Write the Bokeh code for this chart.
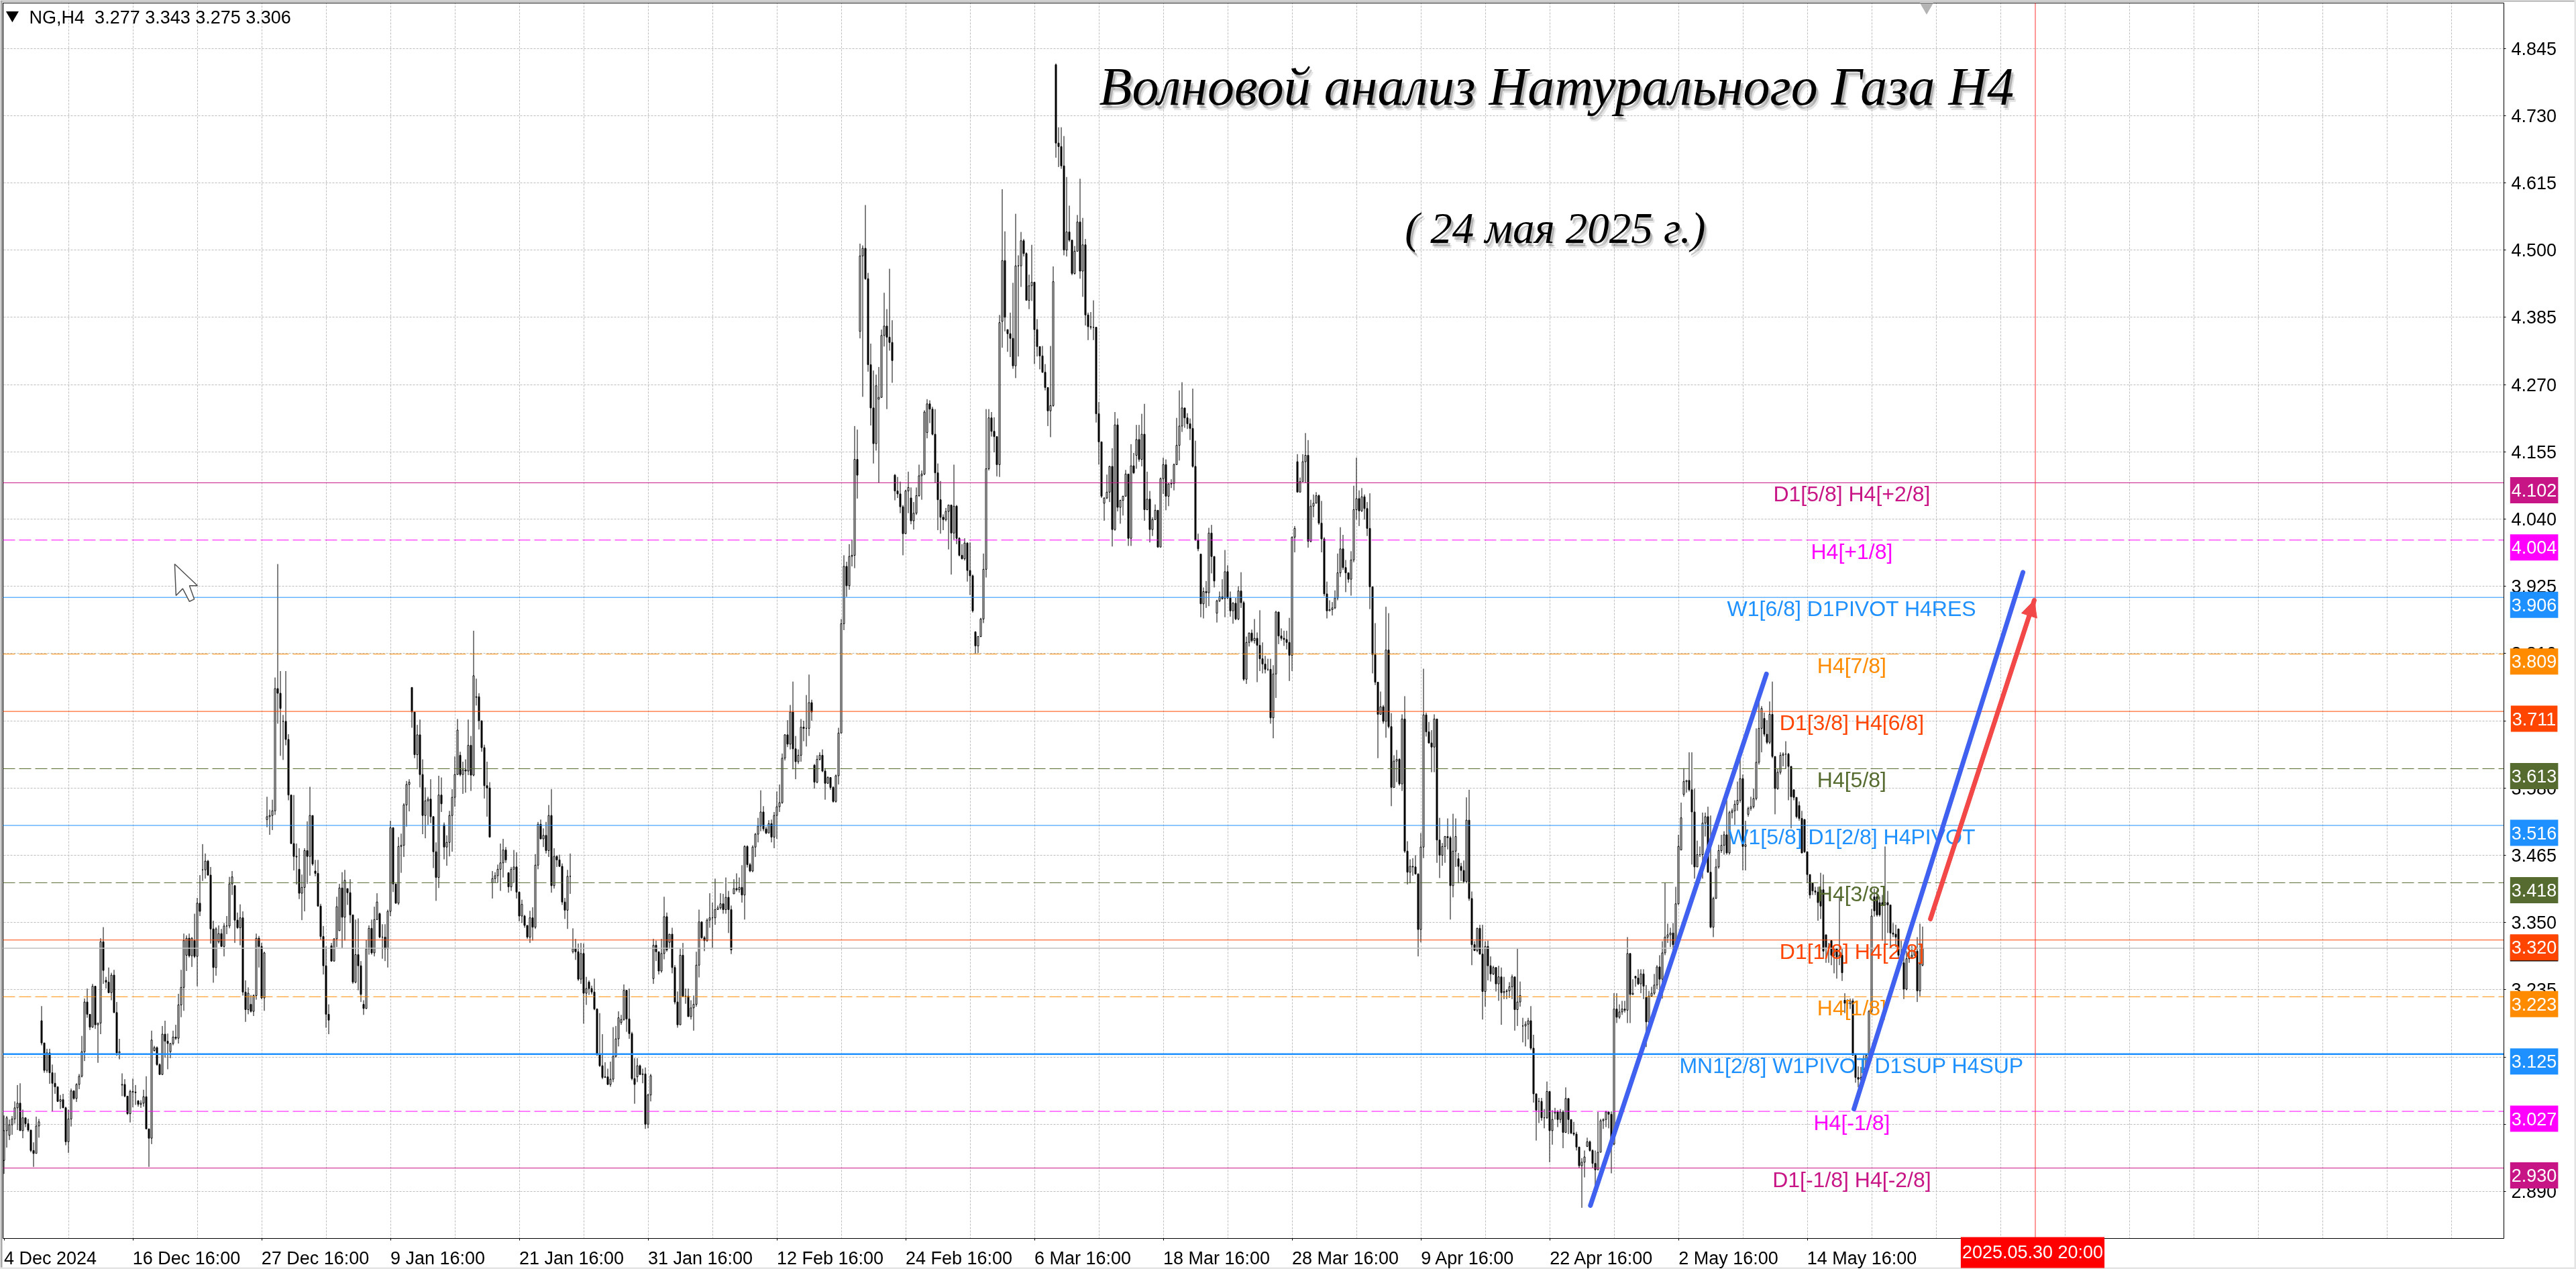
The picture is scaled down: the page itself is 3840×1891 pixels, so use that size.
from bokeh.plotting import figure
from bokeh.embed import file_html
from bokeh.resources import INLINE
from bokeh.core.properties import value
from bokeh.models import (FixedTicker, NumeralTickFormatter, LinearAxis, Label, Arrow,
                          NormalHead, ColumnDataSource)

# ---- OHLC data, in thousandths of a price unit ----
closes = [
2994,3016,3004,3014,3033,3041,2994,3016,3006,2995,2960,2955,3002,3009,3144,3097,3127,3093,3075,3069,
3044,3047,3033,2975,3014,3062,3049,3073,3087,3129,3214,3193,3171,3241,3175,3178,3317,3268,3248,3230,
3260,3196,3127,3129,3073,3053,3023,3061,3060,3059,3039,3041,3052,2997,2981,3149,3136,3107,3090,3159,
3147,3143,3143,3154,3152,3209,3239,3319,3323,3293,3323,3292,3383,3369,3440,3455,3431,3339,3273,3339,
3331,3309,3344,3344,3416,3428,3354,3341,3358,3231,3201,3229,3198,3225,3323,3309,3221,3298,3531,3533,
3541,3750,3742,3716,3694,3663,3568,3485,3463,3462,3400,3410,3473,3463,3533,3450,3434,3378,3326,3276,
3193,3183,3284,3322,3377,3409,3359,3422,3401,3363,3248,3295,3276,3227,3203,3305,3340,3298,3355,3385,
3325,3325,3305,3369,3512,3416,3383,3480,3482,3551,3586,3590,3710,3637,3671,3603,3533,3558,3561,3531,
3471,3427,3568,3553,3479,3487,3533,3564,3603,3679,3603,3611,3609,3653,3602,3772,3736,3695,3649,3584,
3580,3496,3425,3430,3441,3452,3474,3457,3411,3441,3445,3402,3361,3381,3345,3325,3358,3342,3448,3518,
3493,3499,3473,3533,3413,3463,3457,3446,3385,3371,3429,3429,3305,3300,3253,3297,3229,3237,3237,3231,
3202,3124,3105,3085,3086,3073,3082,3121,3151,3187,3184,3234,3185,3160,3083,3073,3105,3090,3091,3005,
3055,3088,3311,3300,3267,3297,3360,3303,3330,3273,3214,3175,3294,3224,3224,3189,3204,3210,3277,3351,
3324,3319,3354,3358,3358,3372,3375,3382,3372,3393,3372,3303,3408,3406,3410,3397,3480,3449,3438,3479,
3501,3515,3539,3510,3503,3519,3496,3533,3548,3555,3631,3671,3655,3710,3647,3625,3636,3684,3682,3682,
3726,3710,3590,3629,3636,3609,3588,3598,3581,3557,3601,3674,3861,3959,3926,3976,3978,4142,4115,4490,
4503,4451,4304,4230,4169,4268,4248,4354,4370,4351,4342,4311,4088,4083,4061,4015,4088,4094,4037,4050,
4080,4114,4117,4223,4237,4228,4185,4119,4073,4043,4039,4053,4064,4016,4062,4007,3978,3972,3999,3952,
3943,3883,3823,3839,3869,3954,4126,4213,4190,4181,4133,4376,4482,4385,4357,4349,4302,4473,4473,4516,
4494,4414,4439,4445,4364,4335,4319,4291,4265,4225,4234,4446,4683,4677,4644,4500,4531,4517,4460,4498,
4548,4464,4509,4389,4369,4368,4368,4220,4172,4079,4076,4086,4130,4022,4201,4060,4072,4079,4117,4007,
4131,4119,4176,4142,4185,4056,4074,4022,4039,4055,3992,4109,4133,4079,4100,4101,4133,4166,4199,4230,
4213,4203,4195,4130,4004,3989,3895,3916,3914,4016,3976,3934,3900,3907,3904,3950,3905,3883,3896,3869,
3917,3897,3766,3829,3845,3832,3836,3824,3801,3792,3783,3783,3700,3775,3881,3840,3836,3834,3829,3807,
4009,4024,4086,4104,4138,4149,4002,4062,4067,4080,4033,4006,3912,3883,3885,3888,3905,3948,3989,3957,
3948,3937,3970,4056,4075,4054,4078,4058,4024,3924,3808,3761,3706,3719,3694,3816,3685,3581,3626,3629,
3587,3698,3472,3436,3446,3445,3433,3338,3479,3705,3676,3657,3650,3698,3491,3465,3480,3497,3495,3413,
3472,3497,3446,3439,3420,3525,3391,3312,3302,3340,3296,3232,3309,3276,3262,3273,3245,3257,3230,3232,
3233,3240,3257,3201,3214,3225,3173,3176,3182,3135,3057,3029,3044,3016,3016,3061,2994,3013,3026,3013,
3026,2991,3049,3013,2990,2988,2966,2934,2940,2949,2975,2960,2938,2927,2957,3011,3013,3026,3022,2971,
3202,3188,3197,3202,3200,3297,3227,3229,3255,3245,3262,3241,3180,3224,3229,3243,3274,3253,3298,3325,
3329,3332,3312,3382,3480,3529,3591,3593,3577,3539,3445,3466,3466,3520,3531,3436,3342,3391,3445,3473,
3482,3500,3469,3538,3541,3552,3559,3596,3480,3483,3545,3548,3562,3624,3682,3716,3672,3658,3706,3634,
3579,3607,3636,3638,3638,3617,3565,3564,3531,3528,3469,3471,3432,3397,3404,3402,3384,3378,3301,3308,
3305,3294,3305,3291,3294,3264,3212,3211,3216,3123,3085,3082,3085,3099,3123,3198,3361,3370,3363,3363,
3380,3384,3380,3332,3330,3325,3294,3281,3236,3288,3291,3294,3301,3233,3279,3306]
highs = [
3020,3019,3013,3019,3044,3072,3075,3030,3013,3014,2995,2974,3018,3014,3207,3144,3134,3134,3107,3093,
3065,3055,3057,3035,3030,3066,3063,3075,3091,3156,3220,3237,3188,3245,3241,3178,3323,3342,3257,3273,
3264,3269,3214,3151,3092,3082,3051,3064,3083,3072,3046,3046,3064,3087,2997,3165,3139,3138,3109,3173,
3182,3160,3144,3165,3175,3228,3269,3331,3328,3331,3325,3365,3392,3431,3484,3468,3457,3445,3353,3342,
3345,3339,3349,3361,3428,3438,3413,3367,3381,3369,3251,3239,3226,3227,3331,3327,3315,3300,3565,3543,
3560,3769,3963,3780,3705,3780,3672,3568,3568,3485,3477,3432,3477,3523,3582,3533,3457,3457,3382,3344,
3309,3210,3315,3323,3394,3416,3436,3440,3408,3424,3363,3355,3357,3284,3217,3320,3345,3355,3377,3400,
3367,3347,3347,3372,3524,3513,3406,3496,3502,3554,3592,3595,3752,3710,3688,3697,3629,3581,3565,3595,
3532,3487,3601,3598,3521,3499,3541,3578,3634,3698,3642,3625,3629,3697,3669,3849,3767,3742,3695,3654,
3625,3590,3438,3436,3449,3485,3493,3479,3436,3445,3474,3470,3403,3389,3363,3345,3370,3376,3467,3522,
3526,3511,3522,3551,3578,3477,3465,3466,3451,3392,3440,3468,3340,3322,3314,3315,3314,3257,3251,3242,
3254,3203,3195,3159,3111,3100,3112,3171,3173,3198,3192,3244,3234,3237,3163,3118,3118,3107,3100,3102,
3057,3091,3322,3319,3300,3322,3394,3367,3330,3341,3277,3232,3305,3315,3237,3237,3217,3225,3300,3372,
3351,3327,3357,3400,3384,3425,3379,3400,3399,3427,3404,3379,3424,3434,3427,3448,3482,3482,3452,3482,
3503,3529,3576,3549,3514,3525,3526,3539,3574,3586,3639,3672,3696,3722,3762,3669,3646,3698,3695,3739,
3774,3731,3621,3636,3641,3646,3614,3600,3596,3583,3603,3683,3869,3978,3967,3997,4005,4199,4193,4511,
4508,4577,4461,4340,4294,4287,4300,4364,4427,4399,4468,4380,4117,4112,4104,4064,4090,4121,4094,4069,
4094,4133,4123,4226,4245,4243,4232,4228,4135,4105,4048,4059,4064,4064,4133,4064,4009,3997,4007,4000,
4000,3945,3848,3840,3871,3981,4228,4228,4223,4214,4181,4389,4604,4532,4364,4393,4444,4562,4491,4531,
4519,4496,4458,4509,4444,4382,4328,4336,4305,4265,4336,4472,4819,4710,4710,4695,4625,4576,4507,4507,
4560,4622,4555,4519,4393,4394,4414,4368,4240,4169,4077,4116,4131,4161,4223,4212,4073,4080,4124,4116,
4168,4153,4201,4201,4220,4237,4121,4088,4043,4065,4055,4111,4145,4142,4101,4108,4135,4213,4260,4274,
4229,4221,4212,4263,4174,4015,3980,3923,3934,4025,4030,3973,3902,3916,3937,3987,3961,3916,3898,3905,
3925,3949,3900,3839,3846,3851,3869,3846,3884,3829,3806,3801,3801,3790,3883,3881,3853,3849,3849,3871,
4010,4028,4151,4111,4151,4187,4175,4073,4082,4086,4082,4071,4009,3933,3901,3898,3918,3981,4026,4013,
3970,3948,3985,4097,4145,4089,4093,4082,4069,4084,3924,3862,3756,3745,3722,3890,3879,3708,3636,3645,
3631,3706,3737,3489,3458,3460,3465,3434,3503,3784,3709,3693,3679,3706,3695,3529,3486,3498,3528,3498,
3536,3528,3469,3452,3456,3564,3577,3403,3318,3341,3346,3346,3318,3319,3292,3276,3273,3276,3273,3257,
3236,3248,3261,3257,3305,3249,3187,3181,3187,3207,3158,3057,3050,3050,3031,3078,3061,3029,3033,3029,
3031,3029,3068,3049,3013,3009,2992,2966,2947,2960,2982,2977,2962,2960,3026,3014,3015,3028,3022,3027,
3229,3229,3210,3216,3216,3325,3294,3253,3258,3270,3270,3270,3243,3233,3240,3262,3277,3294,3318,3418,
3348,3341,3349,3411,3500,3555,3614,3593,3641,3641,3579,3490,3480,3538,3538,3548,3533,3394,3459,3483,
3500,3506,3559,3541,3545,3559,3591,3634,3603,3524,3548,3565,3579,3682,3737,3720,3709,3696,3728,3762,
3631,3613,3641,3641,3660,3640,3616,3577,3555,3557,3541,3527,3469,3432,3417,3411,3411,3435,3432,3329,
3315,3319,3305,3305,3393,3305,3229,3219,3220,3220,3126,3104,3103,3123,3125,3200,3373,3408,3405,3394,
3397,3480,3404,3368,3349,3346,3339,3319,3294,3301,3308,3310,3301,3325,3348,3343]
lows = [
2920,2965,2978,2987,3006,2995,2994,2981,3000,2992,2957,2932,2956,2982,3140,3093,3093,3074,3027,3057,
3043,3031,3033,2969,2956,3001,3047,3043,3065,3085,3113,3187,3166,3170,3168,3110,3159,3245,3237,3229,
3217,3195,3122,3116,3053,3051,3021,3008,3034,3038,3035,3033,3035,2997,2932,2971,3129,3105,3090,3089,
3119,3099,3118,3140,3149,3143,3188,3199,3267,3290,3274,3289,3241,3361,3421,3425,3430,3314,3247,3259,
3314,3308,3292,3330,3340,3397,3315,3339,3311,3225,3180,3193,3196,3190,3218,3273,3219,3199,3513,3500,
3508,3534,3690,3635,3628,3653,3559,3484,3439,3415,3390,3354,3369,3416,3430,3447,3429,3377,3321,3261,
3170,3159,3283,3283,3308,3336,3306,3319,3380,3349,3245,3246,3234,3214,3192,3202,3295,3295,3292,3354,
3323,3288,3284,3273,3361,3402,3382,3380,3435,3462,3514,3540,3683,3631,3612,3581,3501,3494,3517,3520,
3443,3387,3409,3539,3458,3447,3463,3471,3548,3603,3600,3570,3572,3602,3575,3600,3721,3680,3642,3562,
3531,3496,3391,3418,3418,3404,3427,3452,3401,3404,3418,3391,3352,3349,3341,3322,3315,3319,3339,3441,
3492,3479,3468,3462,3401,3408,3445,3445,3380,3356,3339,3399,3297,3286,3250,3245,3177,3209,3226,3227,
3200,3122,3103,3082,3085,3072,3069,3077,3119,3138,3175,3182,3163,3151,3080,3040,3077,3089,3075,2997,
2998,3044,3245,3284,3261,3264,3287,3300,3305,3263,3210,3170,3175,3222,3211,3189,3184,3165,3206,3256,
3322,3301,3317,3341,3306,3346,3372,3372,3365,3365,3332,3296,3399,3403,3401,3384,3355,3444,3436,3436,
3462,3487,3506,3506,3501,3504,3487,3477,3493,3539,3553,3627,3650,3646,3612,3595,3621,3625,3660,3651,
3669,3695,3579,3588,3627,3607,3560,3587,3577,3555,3555,3586,3674,3850,3907,3919,3959,3956,4075,4349,
4249,4449,4292,4200,4135,4157,4102,4248,4335,4228,4328,4273,4072,4076,4050,3978,4014,4050,4031,4022,
4047,4078,4073,4115,4178,4204,4183,4102,4021,4015,4021,4036,3988,3945,4005,3997,3976,3971,3969,3933,
3910,3880,3810,3811,3838,3862,3940,4123,4181,4154,4113,4112,4333,4361,4326,4317,4297,4281,4318,4437,
4489,4414,4399,4413,4305,4318,4296,4290,4260,4199,4180,4232,4658,4642,4639,4491,4489,4514,4457,4458,
4498,4451,4420,4371,4346,4364,4346,4205,4133,4076,4037,4074,4069,3993,4020,4053,4032,4046,4079,3994,
3994,4117,4126,4138,4130,4037,4055,4000,4011,4039,3991,3993,4083,4055,4062,4093,4089,4133,4140,4189,
4196,4194,4175,4128,4003,3985,3872,3870,3888,3891,3947,3923,3863,3898,3902,3872,3903,3873,3861,3867,
3867,3888,3763,3758,3822,3829,3827,3761,3780,3776,3776,3780,3690,3665,3734,3826,3832,3823,3817,3763,
3780,3983,4086,4086,4104,4102,3991,4000,4043,4067,4030,3983,3908,3870,3883,3875,3886,3901,3941,3953,
3915,3931,3909,3966,4039,4028,4052,4039,4011,3886,3776,3756,3631,3706,3690,3666,3682,3549,3581,3590,
3584,3575,3469,3415,3417,3430,3432,3292,3316,3460,3668,3656,3607,3607,3452,3426,3447,3452,3475,3355,
3393,3445,3417,3421,3417,3417,3387,3277,3301,3299,3295,3184,3206,3251,3249,3260,3232,3216,3175,3219,
3219,3221,3219,3165,3173,3206,3145,3138,3150,3132,3042,2977,3007,3011,2998,3014,2940,2970,3013,3000,
3007,2964,2990,2988,2988,2985,2960,2930,2862,2914,2966,2958,2930,2899,2929,2957,2997,3000,2998,2921,
2969,3178,3185,3192,3196,3178,3178,3226,3240,3243,3229,3219,3137,3168,3223,3226,3236,3223,3220,3294,
3315,3308,3301,3308,3380,3480,3565,3572,3574,3449,3425,3445,3462,3425,3497,3435,3340,3325,3404,3442,
3469,3466,3466,3466,3528,3517,3541,3555,3439,3439,3531,3541,3545,3559,3620,3641,3668,3655,3655,3631,
3535,3577,3603,3617,3613,3559,3511,3559,3528,3524,3468,3469,3418,3391,3397,3397,3353,3356,3288,3281,
3281,3277,3263,3254,3277,3250,3195,3202,3202,3123,3076,3068,3078,3082,3089,3120,3195,3360,3360,3360,
3319,3308,3332,3308,3325,3308,3288,3277,3219,3234,3281,3288,3295,3214,3224,3275]
# opens equal the previous close, except at these bars (gaps and small offsets)
gap_bars = [0,2,14,38,44,50,56,62,68,71,74,80,86,92,98,104,110,116,122,125,128,134,140,152,164,170,176,
            182,188,194,212,218,230,236,242,248,249,272,302,319,326,332,338,344,362,372,374,392,410,422,
            446,452,482,542,566,572,578,590,608,612,625,626,650,656,667,669,671,674,677,678,679,681,686,
            697,698,699,700,706,715]
gap_opens = [2943,2986,3182,3251,3072,3045,3131,3129,3294,3319,3440,3317,3413,3210,3526,3694,3441,3438,3310,
             3336,3408,3210,3365,3752,3517,3636,3735,3418,3435,3361,3300,3248,3179,3086,3254,3316,3330,3399,
             3619,4361,4245,4115,4076,4188,3847,4378,4364,4817,4067,4149,3980,3879,4138,3459,3173,3044,3024,
             2967,3258,3222,3474,3569,3535,3699,3577,3550,3526,3417,3406,3406,3329,3319,3217,3394,3394,3384,
             3384,3339,3277]

price_ticks = [4.845,4.730,4.615,4.500,4.385,4.270,4.155,4.040,3.925,3.810,3.695,3.580,3.465,3.350,3.235,3.120,3.005,2.890]
time_bars = [0,48,96,144,192,240,288,336,384,432,480,528,576,624,672]
time_labels = ["4 Dec 2024","16 Dec 16:00","27 Dec 16:00","9 Jan 16:00","21 Jan 16:00","31 Jan 16:00","12 Feb 16:00",
               "24 Feb 16:00","6 Mar 16:00","18 Mar 16:00","28 Mar 16:00","9 Apr 16:00","22 Apr 16:00","2 May 16:00","14 May 16:00"]
time_label_px = [138,160,160,141,156,156,159,159,144,159,159,140,155,149,163]
grid_bars = [24*k for k in range(1, 39)]

level_prices = [4.102,4.004,3.906,3.809,3.711,3.613,3.516,3.418,3.320,3.223,3.125,3.027,2.930]
level_labels = ["4.102","4.004","3.906","3.809","3.711","3.613","3.516","3.418","3.320","3.223","3.125","3.027","2.930"]
level_names = ["D1[5/8] H4[+2/8]","H4[+1/8]","W1[6/8] D1PIVOT H4RES","H4[7/8]","D1[3/8] H4[6/8]","H4[5/8]",
               "W1[5/8] D1[2/8] H4PIVOT","H4[3/8]","D1[1/8] H4[2/8]","H4[1/8]","MN1[2/8] W1PIVOT D1SUP H4SUP",
               "H4[-1/8]","D1[-1/8] H4[-2/8]"]
level_colors = ["#C71585","#FF00FF","#1E90FF","#FF8C00","#FF4500","#556B2F","#1E90FF","#556B2F","#FF4500","#FF8C00","#1E90FF","#FF00FF","#C71585"]
level_dashed = [False,True,False,True,False,True,False,True,False,True,False,True,False]
level_widths = [1,1,1,1,1,1,1,1,1,1,2.5,1,1]
bid_price = 3.306
cursor_bar = 757

wave1_x, wave1_y = [591.2, 656.8], [2.866, 3.775]
wave2_x, wave2_y = [689.4, 752.4], [3.031, 3.949]
arrow_x, arrow_y = [717.9, 756.6], [3.356, 3.901]
pointer_x = [63.6,64.1,66.6,69.1,70.9,69.1,72.1]
pointer_y = [3.963,3.909,3.921,3.899,3.903,3.926,3.926]

n = len(closes)
opens = [closes[0]] + closes[:-1]
for b, o in zip(gap_bars, gap_opens):
    opens[b] = o
idx = list(range(n))
o_ = [v/1000 for v in opens]; c_ = [v/1000 for v in closes]
h_ = [v/1000 for v in highs]; l_ = [v/1000 for v in lows]

UP = "white"; DOWN = "black"
src = ColumnDataSource(dict(x=idx, o=o_, c=c_, h=h_, l=l_,
                            fill=[UP if c_[i] >= o_[i] else DOWN for i in idx]))

# the plot frame fills the window; the chart area inside it is bounded by these values
X_MIN, X_MAX = -1.375, 958.625
Y_MIN, Y_MAX = 2.7568, 4.9271
X_L, X_R = -0.375, 931.625
Y_TOP, Y_BOT = 4.9225, 2.8096

p = figure(width=3840, height=1891, x_range=(X_MIN, X_MAX), y_range=(Y_MIN, Y_MAX),
           output_backend="svg", toolbar_location=None, y_axis_location="right",
           min_border_left=0, min_border_top=0, min_border_right=0, min_border_bottom=0)
p.styles = {"position": "fixed", "left": "0px", "top": "0px"}
p.outline_line_color = None
p.background_fill_color = "white"; p.border_fill_color = "white"

FONT = "Liberation Sans"
ya = p.yaxis[0]
ya.fixed_location = X_R
ya.bounds = (Y_BOT, Y_TOP)
ya.ticker = FixedTicker(ticks=price_ticks)
ya.formatter = NumeralTickFormatter(format="0.000")
ya.major_label_text_font = FONT; ya.major_label_text_font_size = "27px"; ya.major_label_text_color = "black"
ya.major_tick_in = 0; ya.major_tick_out = 3; ya.minor_tick_out = 0; ya.minor_tick_in = 0
ya.major_label_standoff = 8; ya.axis_line_color = "black"

xa = p.xaxis[0]
xa.fixed_location = Y_BOT
xa.bounds = (X_L, X_R)
xa.ticker = FixedTicker(ticks=time_bars)
xa.major_label_text_color = None; xa.major_label_text_font_size = "1px"; xa.major_label_standoff = 0
xa.major_tick_in = 0; xa.major_tick_out = 3; xa.minor_tick_out = 0; xa.minor_tick_in = 0
xa.axis_line_color = "black"

label_pos = [b + w/8 for b, w in zip(time_bars, time_label_px)]
xb = LinearAxis(fixed_location=Y_BOT, ticker=FixedTicker(ticks=label_pos),
                major_label_overrides={pos: t for pos, t in zip(label_pos, time_labels)},
                major_label_text_font=FONT, major_label_text_font_size="27px", major_label_text_color="black",
                axis_line_color=None, major_tick_line_color=None, minor_tick_line_color=None,
                major_label_standoff=9)
p.add_layout(xb, "below")

p.xgrid.ticker = FixedTicker(ticks=grid_bars)
p.ygrid.ticker = FixedTicker(ticks=price_ticks)
for g in (p.xgrid, p.ygrid):
    g.grid_line_color = "#BDBDBD"; g.grid_line_dash = "3 2"; g.grid_line_width = 1

# white margins over the grid, outside the chart area
p.quad(left=[X_R, X_MIN, X_MIN, X_MIN], right=[X_MAX, X_MAX, X_MAX, X_L],
       top=[Y_MAX, Y_BOT, Y_MAX, Y_MAX], bottom=[Y_MIN, Y_MIN, Y_TOP, Y_MIN],
       fill_color="white", line_color=None)
# top and left frame lines
p.line([X_L, X_L, X_R], [Y_BOT, Y_TOP, Y_TOP], line_color="black", line_width=1.2)

# candles
p.segment("x", "h", "x", "l", source=src, line_color="black", line_width=1)
p.vbar("x", 0.5, "o", "c", source=src, fill_color="fill", line_color="black", line_width=1)

# levels and bid line
p.line([X_L, X_R], [bid_price, bid_price], line_color="#C0C0C0", line_width=1.5)
for pr, col, d, w in zip(level_prices, level_colors, level_dashed, level_widths):
    p.line([X_L, X_R], [pr, pr], line_color=col, line_width=w, line_dash="18 6" if d else "solid")
p.line([cursor_bar, cursor_bar], [Y_BOT, Y_TOP], line_color="#FF3030", line_width=1)

# pointer and shift marker
p.patch(pointer_x, pointer_y, fill_color="white", line_color="#505050", line_width=1.5)
p.scatter([716.5], [4.916], marker="inverted_triangle", size=20, fill_color="#B4B4B4", line_color=None)
p.scatter([3.1], [4.902], marker="inverted_triangle", size=19, fill_color="black", line_color=None)

p.text([9.4], [4.898], text=["NG,H4\u00a0\u00a03.277 3.343 3.275 3.306"], text_font=value(FONT), text_font_size="27px",
       text_color="black", text_align="left", text_baseline="middle")

# level names
p.text([688.6]*len(level_prices), level_prices, text=level_names, text_color=level_colors,
       text_font=value(FONT), text_font_size="32px", text_align="center", text_baseline="middle", y_offset=17)

# wave lines
BLUE = "#4060F0"; RED = "#F24848"
p.line(wave1_x, wave1_y, line_color=BLUE, line_width=7, line_cap="round")
p.line(wave2_x, wave2_y, line_color=BLUE, line_width=7, line_cap="round")
p.line(arrow_x, arrow_y, line_color=RED, line_width=7, line_cap="round")
p.add_layout(Arrow(end=NormalHead(size=24, fill_color=RED, line_color=RED), line_color=RED, line_width=6,
                   x_start=arrow_x[0], y_start=arrow_y[0], x_end=arrow_x[1], y_end=arrow_y[1]))

# titles with a soft shadow
TITLE_FONT = "Liberation Serif"
for text, x, y, size in [("Волновой анализ Натурального Газа H4", 578.6, 4.780, "80px"),
                         ("( 24 мая 2025 г.)", 578.1, 4.537, "65px")]:
    for dx, dy, a in [(5, 8, 0.10), (3, 5, 0.22)]:
        p.text([x], [y], text=[text], text_font=value(TITLE_FONT), text_font_style="italic", text_font_size=size,
               text_color="black", text_alpha=a, text_align="center", text_baseline="alphabetic", x_offset=dx, y_offset=dy)
    p.text([x], [y], text=[text], text_font=value(TITLE_FONT), text_font_style="italic", text_font_size=size,
           text_color="black", text_align="center", text_baseline="alphabetic")

# window edges
p.quad(left=[X_MIN, X_MIN, 957.875, X_MIN], right=[X_MAX, -0.625, X_MAX, X_MAX],
       top=[Y_MAX, Y_MAX, Y_MAX, 2.7602], bottom=[4.9248, Y_MIN, Y_MIN, Y_MIN],
       fill_color=["#A8A8A8", "#A8A8A8", "#E4E4E4", "#E4E4E4"], line_color=None)

# price tags on the axis
TAG_X = 942.9
p.add_layout(Label(x=TAG_X, y=bid_price, text="3.306", text_color="white", text_font=FONT, text_font_size="27px",
                   text_align="center", text_baseline="middle", background_fill_color="black", padding=(2, 10)))
for pr, txt, col in zip(level_prices, level_labels, level_colors):
    p.add_layout(Label(x=TAG_X, y=pr, y_offset=-11, text=txt, text_color="white", text_font=FONT, text_font_size="27px",
                       text_align="center", text_baseline="middle", background_fill_color=col, padding=(2, 10)))
p.add_layout(Label(x=cursor_bar - 1, y=Y_BOT, y_offset=-21, text="2025.05.30 20:00", text_color="white", text_font=FONT,
                   text_font_size="27px", text_align="center", text_baseline="middle", background_fill_color="#FF0000",
                   padding=(2, 8)))

open("out.html", "w").write(file_html(p, INLINE))
